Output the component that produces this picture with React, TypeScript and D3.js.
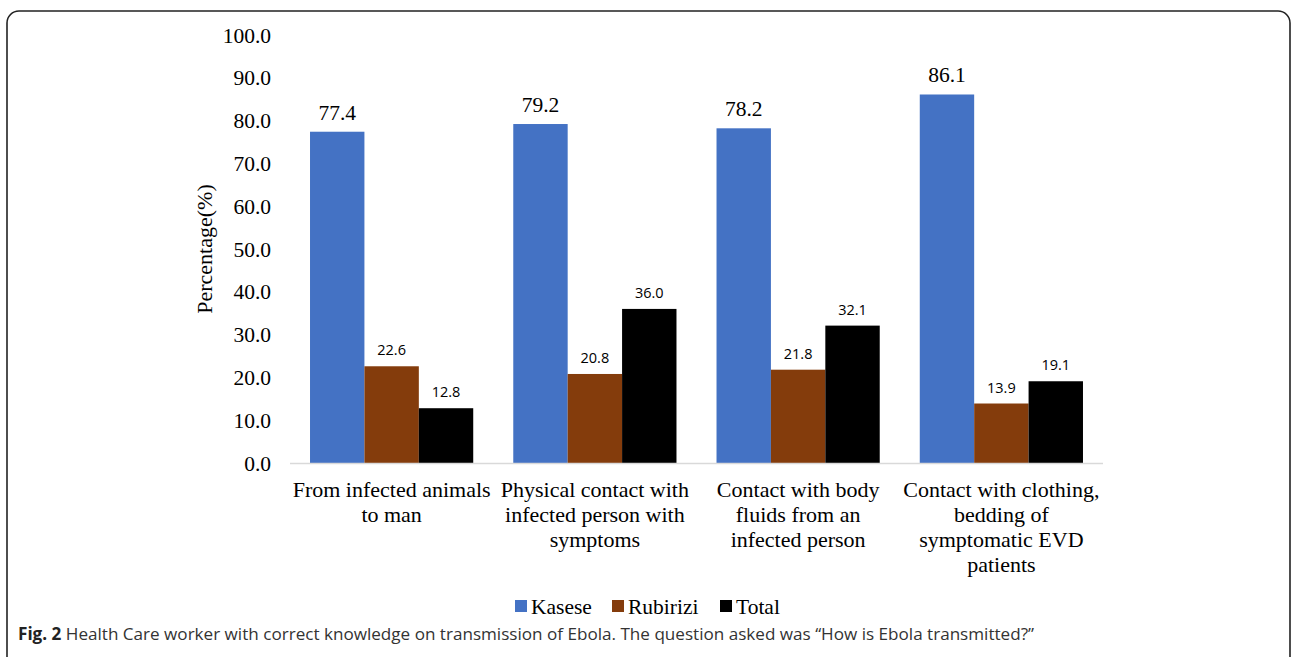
import React from "react";
import * as d3 from "d3";

const categories: string[][] = [
  ["From infected animals", "to man"],
  ["Physical contact with", "infected person with", "symptoms"],
  ["Contact with body", "fluids from an", "infected person"],
  ["Contact with clothing,", "bedding of", "symptomatic EVD", "patients"],
];
const seriesNames = ["Kasese", "Rubirizi", "Total"];
const kasese = [77.4, 79.2, 78.2, 86.1];
const rubirizi = [22.6, 20.8, 21.8, 13.9];
const total = [12.8, 36.0, 32.1, 19.1];
const yTicks = [0, 10, 20, 30, 40, 50, 60, 70, 80, 90, 100];
const colors = ["#4472C4", "#843C0C", "#000000"];

const W = 1292;
const H = 657;
const left = 290;
const right = 1103;
const top = 35;
const bottom = 463;

export default function App() {
  const series = [kasese, rubirizi, total];
  const x0 = d3
    .scaleBand<number>()
    .domain(categories.map((_, i) => i))
    .range([left, right])
    .paddingInner(0.197)
    .paddingOuter(0.0985);
  const x1 = d3
    .scaleBand<number>()
    .domain([0, 1, 2])
    .range([0, x0.bandwidth()]);
  const y = d3.scaleLinear().domain([0, 100]).range([bottom, top]);
  const serif = "'Liberation Serif', 'Times New Roman', serif";
  const sans = "'Open Sans', sans-serif";
  const legendX = [515, 612, 720];

  return (
    <svg
      width={W}
      height={H}
      style={{ position: "absolute", left: 0, top: 0, background: "#fff" }}
    >
      <rect x={7} y={11} width={1283} height={700} rx={12} ry={12} fill="#fff" stroke="#222" strokeWidth={1.6} />
      {yTicks.map((t) => (
        <text key={t} x={271} y={y(t)} dy="0.35em" textAnchor="end" fontFamily={serif} fontSize={21.5} fill="#000">
          {t.toFixed(1)}
        </text>
      ))}
      <text
        transform={`translate(212,${(top + bottom) / 2}) rotate(-90)`}
        textAnchor="middle"
        fontFamily={serif}
        fontSize={22}
        fill="#000"
      >
        Percentage(%)
      </text>
      {categories.map((_, ci) => (
        <g key={ci} transform={`translate(${x0(ci)},0)`}>
          {series.map((s, si) => (
            <rect
              key={si}
              x={x1(si)}
              y={y(s[ci])}
              width={x1.bandwidth()}
              height={bottom - y(s[ci])}
              fill={colors[si]}
            />
          ))}
          {series.map((s, si) =>
            si === 0 ? (
              <text key={"l" + si} x={(x1(si) as number) + x1.bandwidth() / 2} y={y(s[ci]) - 12} textAnchor="middle" fontFamily={serif} fontSize={21.5} fill="#000">
                {s[ci].toFixed(1)}
              </text>
            ) : (
              <text key={"l" + si} x={(x1(si) as number) + x1.bandwidth() / 2} y={y(s[ci]) - 11} textAnchor="middle" fontFamily={sans} fontSize={14.5} fill="#000">
                {s[ci].toFixed(1)}
              </text>
            )
          )}
        </g>
      ))}
      <line x1={left} x2={right} y1={bottom + 0.5} y2={bottom + 0.5} stroke="#d9d9d9" strokeWidth={1.5} />
      {categories.map((lines, ci) => (
        <text key={"c" + ci} x={(x0(ci) as number) + x0.bandwidth() / 2} textAnchor="middle" fontFamily={serif} fontSize={22} fill="#000">
          {lines.map((ln, li) => (
            <tspan key={li} x={(x0(ci) as number) + x0.bandwidth() / 2} y={497 + li * 25}>
              {ln}
            </tspan>
          ))}
        </text>
      ))}
      {seriesNames.map((n, i) => (
        <g key={n}>
          <rect x={legendX[i]} y={600} width={12} height={12} fill={colors[i]} />
          <text x={legendX[i] + 16} y={614} fontFamily={serif} fontSize={21.5} fill="#000">
            {n}
          </text>
        </g>
      ))}
      <text x={18} y={640} fontFamily="'Open Sans', sans-serif" fontSize={17} fill="#333" textLength={1016} lengthAdjust="spacingAndGlyphs">
        <tspan fontWeight="bold" fill="#222">Fig. 2</tspan>
        <tspan> Health Care worker with correct knowledge on transmission of Ebola. The question asked was “How is Ebola transmitted?”</tspan>
      </text>
    </svg>
  );
}
